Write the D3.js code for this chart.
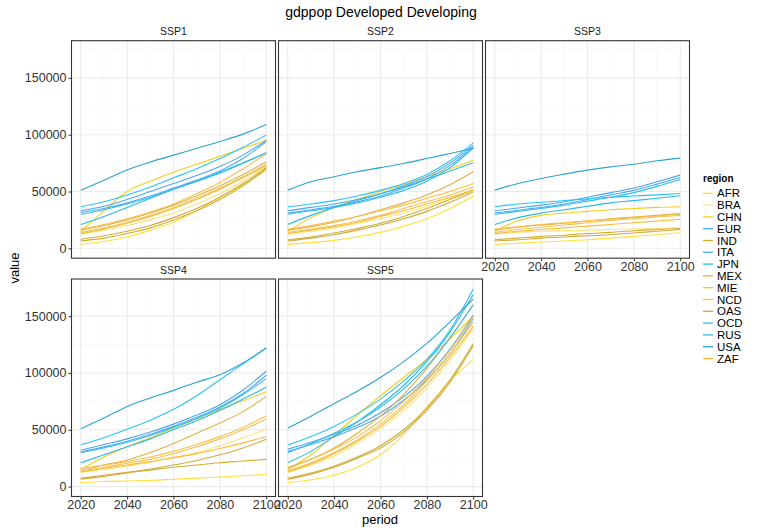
<!DOCTYPE html>
<html>
<head>
<meta charset="utf-8">
<script src="https://cdn.jsdelivr.net/npm/d3@7"></script>
<style>
  body { margin: 0; background: #fff; }
  svg { font-family: "Liberation Sans", Arial, sans-serif; }
</style>
</head>
<body>
<div id="chart"></div>
<script>
// data (GDP per capita, thousands)
const years = [2020, 2030, 2040, 2050, 2060, 2070, 2080, 2090, 2100];
const regions = ["AFR", "BRA", "CHN", "EUR", "IND", "ITA", "JPN", "MEX", "MIE", "NCD", "OAS", "OCD", "RUS", "USA", "ZAF"];
const regionColors = ["#ffe03a", "#ffe27a", "#f2cf1c", "#4ba6f2", "#cdb02c", "#55a9f0", "#2cc3f3", "#dfb043", "#f9c045", "#f1c256", "#d2a93f", "#2bc0ef", "#2fb7e6", "#2aa4cf", "#f8bd33"];
const scenarios = ["SSP1", "SSP2", "SSP3", "SSP4", "SSP5"];
const xTicks = [2020, 2040, 2060, 2080, 2100];
const yTicks = [0, 50000, 100000, 150000];

const ssp1 = {
    AFR: [3.5, 6, 10, 16, 23, 33, 45, 56, 69],
    BRA: [12.5, 16, 20, 25, 31, 39, 48, 59, 72],
    CHN: [15, 33, 50, 59, 67, 74, 81, 88, 95],
    EUR: [33, 37, 43, 50, 57, 64, 72, 82, 95],
    IND: [6.5, 9, 13, 18, 25, 33, 43, 55, 70],
    ITA: [31.5, 35, 40, 46, 53, 60, 68, 79, 94],
    JPN: [36.6, 41, 47, 54, 62, 70, 79, 89, 99.6],
    MEX: [16, 20, 25, 31, 38, 46, 55, 65, 76],
    MIE: [17, 21, 26, 32, 39, 48, 58, 70, 83],
    NCD: [14, 18, 23, 29, 36, 44, 53, 63, 74],
    OAS: [8, 11, 15, 20, 27, 35, 45, 57, 71],
    OCD: [30, 34, 39, 45, 52, 59, 66, 75, 84],
    RUS: [21, 28, 36, 44, 52, 59, 67, 75, 84],
    USA: [51, 60, 69, 76, 82, 88, 94, 100.5, 109],
    ZAF: [13, 17, 22, 28, 35, 43, 52, 62, 73]
};
const ssp2 = {
    AFR: [3.5, 5, 7, 10, 14, 19.5, 26, 35, 46],
    BRA: [12.5, 15, 18, 22, 26, 31, 37, 44, 52],
    CHN: [15, 27, 36, 43, 50, 56, 63, 70, 77.6],
    EUR: [33, 36, 39, 43, 48, 55, 63, 75, 90.8],
    IND: [7.5, 10, 13.5, 17.5, 22, 28, 35, 43, 51],
    ITA: [31, 34, 37, 41, 46, 53, 61, 73, 89.3],
    JPN: [36.6, 39, 42, 46, 51, 57, 65, 77, 92.8],
    MEX: [16, 19, 23, 28, 34, 40, 47, 56, 67.4],
    MIE: [17, 20, 24, 28, 33, 38, 44, 50, 57],
    NCD: [14, 17, 20, 24, 29, 35, 41, 47, 54],
    OAS: [6.5, 9, 12, 16, 20.5, 26, 32.5, 40.5, 49.5],
    OCD: [30, 33, 36, 40, 45, 51, 59, 71, 88.5],
    RUS: [21, 29, 36, 42, 48, 54, 61, 68, 75.3],
    USA: [51.2, 58.6, 63, 67.4, 71, 74.7, 79, 83.5, 88],
    ZAF: [13, 16, 19, 23, 28, 33, 39, 45, 51]
};
const ssp3 = {
    AFR: [3.5, 4.5, 5.5, 6.5, 7.5, 9, 10.5, 12, 13.7],
    BRA: [12.5, 14, 15, 15.5, 16, 16.5, 17, 17.5, 18],
    CHN: [15, 24.3, 29, 31, 32.5, 34, 35, 36, 36.6],
    EUR: [33, 35.5, 38, 41, 45, 49, 53, 58.5, 64.4],
    IND: [7.5, 9, 10.5, 11.5, 13, 14, 15.5, 16.5, 17.5],
    ITA: [31, 33.5, 36, 39, 43, 47, 51, 56.5, 62.4],
    JPN: [36.6, 39, 40.5, 42, 43.5, 45, 46, 47, 48.3],
    MEX: [16, 18.5, 20.5, 22, 24, 26, 27.5, 29, 30.5],
    MIE: [17, 19, 21, 22.5, 24, 25.5, 27, 28.5, 30],
    NCD: [14, 16.5, 18.5, 20.5, 22.5, 24.5, 26, 27.5, 29],
    OAS: [6.5, 7.5, 9, 10, 11, 12, 13.5, 15, 16.5],
    OCD: [30, 32.5, 35, 38, 41.5, 45, 49, 54.5, 60.6],
    RUS: [21, 27, 31, 34, 37, 40, 42, 44, 46.3],
    USA: [51.2, 57, 61.5, 65.3, 68.8, 71.7, 74, 77, 79.4],
    ZAF: [13, 15, 16.5, 18, 19.5, 21, 22.5, 24, 25.5]
};
const ssp4 = {
    AFR: [3.5, 4.5, 5, 5.5, 6.5, 7.5, 8.5, 9.5, 10.9],
    BRA: [12.5, 15, 18, 21.5, 25.5, 30, 36, 43, 50.6],
    CHN: [15, 26, 35, 43, 51.5, 59.5, 68, 75.5, 83.5],
    EUR: [32, 37, 42, 48, 55, 63, 72, 85, 101.5],
    IND: [6.5, 9, 12, 14.5, 17, 19, 21, 22.5, 24],
    ITA: [30.5, 35, 40, 46, 53, 61, 70, 82, 98],
    JPN: [36.8, 43, 50.5, 58.5, 68, 80, 94, 108, 122],
    MEX: [14, 19, 23.5, 30, 38, 47, 56, 66, 79.4],
    MIE: [16, 19, 22, 26, 31, 37, 44, 52, 62.3],
    NCD: [14, 17, 20.5, 24, 29, 35, 42, 50, 59.4],
    OAS: [7.5, 10, 12.5, 15.5, 19, 23, 28, 34, 41.7],
    OCD: [30, 34, 39, 45, 52, 60, 69, 81, 95],
    RUS: [21, 28, 35, 42, 50, 58, 67, 77, 87.4],
    USA: [51, 60.3, 70.6, 78, 84.7, 91.8, 98.5, 108.8, 122],
    ZAF: [13, 16, 19, 22, 25.5, 29, 33.5, 38.5, 44]
};
const ssp5 = {
    AFR: [3.5, 6, 10, 17, 28, 46, 70, 93, 112],
    BRA: [12.5, 19, 27, 38, 51, 67, 87, 111, 139],
    CHN: [15, 28, 45, 63, 80, 96, 112, 130, 150],
    EUR: [33, 39, 46, 54, 65, 79, 97, 121, 151],
    IND: [7.5, 12, 18, 26, 36, 50, 69, 94, 126],
    ITA: [31, 37, 44, 52, 62, 76, 94, 117, 148],
    JPN: [36.6, 44, 53, 64, 77, 93, 112, 138, 174],
    MEX: [16, 24, 34, 47, 62, 81, 104, 131, 160],
    MIE: [17, 24, 33, 44, 58, 75, 96, 120, 150],
    NCD: [14, 21, 30, 41, 55, 72, 93, 117, 145],
    OAS: [6.5, 11, 17, 25, 34, 48, 67, 92, 124],
    OCD: [30, 38, 47, 57, 70, 86, 106, 131, 160],
    RUS: [21, 31, 44, 57, 72, 89, 110, 136, 169],
    USA: [51.5, 62, 73, 84, 96, 110, 126, 145, 165],
    ZAF: [13, 20, 29, 40, 53, 70, 90, 114, 141]
};
const scenarioData = [ssp1, ssp2, ssp3, ssp4, ssp5];

const width = 763;
const height = 532;
const panelW = 204, panelH = 217.5;
const panelX = [71.5, 278.5, 485.5];
const panelY = [40.7, 279];

const svg = d3.select("#chart").append("svg")
    .attr("width", width)
    .attr("height", height);

svg.append("rect").attr("width", width).attr("height", height).attr("fill", "#fff");

const allValues = scenarioData.flatMap(s => regions.flatMap(r => s[r])).map(v => v * 1000);
const yMax = d3.max(allValues);
const pad = yMax * 0.05;

const x = d3.scaleLinear().domain([2016, 2104]).range([0, panelW]);
const y = d3.scaleLinear().domain([-pad, yMax + pad]).range([panelH, 0]);
const color = d3.scaleOrdinal().domain(regions).range(regionColors);

const line = d3.line()
    .curve(d3.curveMonotoneX)
    .x(d => x(d.year))
    .y(d => y(d.value));

scenarios.forEach((name, i) => {
    const col = i % 3, row = Math.floor(i / 3);
    const g = svg.append("g")
        .attr("transform", `translate(${panelX[col]},${panelY[row]})`);

    // minor grid
    const minorX = [2030, 2050, 2070, 2090];
    const minorY = [25000, 75000, 125000, 175000];
    g.selectAll(".mx").data(minorX).enter().append("line")
        .attr("x1", d => x(d)).attr("x2", d => x(d))
        .attr("y1", 0).attr("y2", panelH)
        .attr("stroke", "#f3f3f3").attr("stroke-width", 0.6);
    g.selectAll(".my").data(minorY).enter().append("line")
        .attr("y1", d => y(d)).attr("y2", d => y(d))
        .attr("x1", 0).attr("x2", panelW)
        .attr("stroke", "#f3f3f3").attr("stroke-width", 0.6);
    // major grid
    g.selectAll(".gx").data(xTicks).enter().append("line")
        .attr("x1", d => x(d)).attr("x2", d => x(d))
        .attr("y1", 0).attr("y2", panelH)
        .attr("stroke", "#ebebeb").attr("stroke-width", 1.1);
    g.selectAll(".gy").data(yTicks).enter().append("line")
        .attr("y1", d => y(d)).attr("y2", d => y(d))
        .attr("x1", 0).attr("x2", panelW)
        .attr("stroke", "#ebebeb").attr("stroke-width", 1.1);

    const data = scenarioData[i];
    g.selectAll(".series")
        .data(regions)
        .enter()
        .append("path")
        .attr("fill", "none")
        .attr("stroke", r => color(r))
        .attr("stroke-width", 1.1)
        .attr("d", r => line(years.map((yr, k) => ({ year: yr, value: data[r][k] * 1000 }))));

    g.append("rect")
        .attr("width", panelW).attr("height", panelH)
        .attr("fill", "none").attr("stroke", "#333").attr("stroke-width", 1.1);

    // strip label
    g.append("text")
        .attr("x", panelW / 2).attr("y", -5.5)
        .attr("text-anchor", "middle")
        .attr("font-size", 10.5).attr("fill", "#1a1a1a")
        .text(name);

    // y axis on left column
    if (col === 0) {
        const ya = g.append("g").call(d3.axisLeft(y).tickValues(yTicks).tickSize(3).tickPadding(2).tickFormat(d3.format("d")));
        ya.select(".domain").remove();
        ya.selectAll("line").attr("stroke", "#333");
        ya.selectAll("text").attr("font-size", 12.5).attr("fill", "#333").attr("font-family", "Liberation Sans, Arial, sans-serif");
    }
    // x axis where no panel below
    if (row === 1 || col === 2) {
        const xa = g.append("g").attr("transform", `translate(0,${panelH})`)
            .call(d3.axisBottom(x).tickValues(xTicks).tickSize(3).tickPadding(1).tickFormat(d3.format("d")));
        xa.select(".domain").remove();
        xa.selectAll("line").attr("stroke", "#333");
        xa.selectAll("text").attr("font-size", 12.5).attr("fill", "#333").attr("font-family", "Liberation Sans, Arial, sans-serif");
    }
});

svg.append("text")
    .attr("x", 381).attr("y", 17)
    .attr("text-anchor", "middle")
    .attr("font-size", 14).attr("fill", "#000")
    .text("gdppop Developed Developing");

svg.append("text")
    .attr("x", 380).attr("y", 524)
    .attr("text-anchor", "middle")
    .attr("font-size", 13).attr("fill", "#000")
    .text("period");

svg.append("text")
    .attr("transform", "translate(19,268) rotate(-90)")
    .attr("text-anchor", "middle")
    .attr("font-size", 13).attr("fill", "#000")
    .text("value");

// legend
const legend = svg.append("g").attr("transform", "translate(703,0)");
legend.append("text")
    .attr("x", 0).attr("y", 182)
    .attr("font-size", 10).attr("font-weight", "bold")
    .text("region");
const item = legend.selectAll(".item")
    .data(regions)
    .enter()
    .append("g")
    .attr("transform", (d, i) => `translate(0,${193.3 + i * 11.8})`);
item.append("line")
    .attr("x1", 0).attr("x2", 10)
    .attr("stroke", d => color(d)).attr("stroke-width", 1.3);
item.append("text")
    .attr("x", 14).attr("y", 4.1)
    .attr("font-size", 11.5).attr("fill", "#000")
    .text(d => d);
</script>
</body>
</html>
